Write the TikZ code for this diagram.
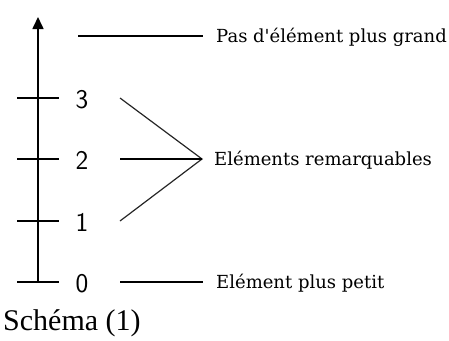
\documentclass[tikz,border=0pt]{standalone}
\usepackage{fontspec}
\setmainfont{Liberation Serif}
\newfontfamily\lblfont{DejaVu Serif}
\usetikzlibrary{arrows.meta}
\tikzset{
  axisline/.style={line width=1.6pt, black},
  tickline/.style={line width=1.6pt, black},
  thinline/.style={line width=1.2pt, black!85},
  digit/.style={font=\sffamily\fontsize{27}{27}\selectfont, inner sep=0pt, anchor=center},
  lbl/.style={font=\lblfont\fontsize{18}{18}\selectfont, inner sep=0pt, anchor=base west},
}
\begin{document}
\begin{tikzpicture}[x=1pt,y=-1pt]
\useasboundingbox (0,0) rectangle (449,340);
% axis
\coordinate (ax0) at (38,282);
\coordinate (axtop) at (38,17);
\draw[axisline, -{Triangle[length=12pt,width=11pt]}] (ax0) -- (axtop);
% ticks
\foreach \n/\y in {3/98,2/159,1/221,0/282}{
  \coordinate (tl\n) at (17,\y);
  \coordinate (tr\n) at (59,\y);
  \draw[tickline] (tl\n) -- (tr\n);
  \node[digit] (d\n) at (82,\y+1.5) {\n};
}
% lines
\coordinate (top1) at (78,36);
\coordinate (top2) at (203,36);
\draw[tickline] (top1) -- (top2);
\coordinate (apex) at (202,159);
\coordinate (s3) at (120,98);
\coordinate (s2) at (120,159);
\coordinate (s1) at (120,221);
\draw[thinline] (s3) -- (apex) -- (s1);
\draw[tickline] (s2) -- (apex);
\coordinate (b1) at (120,282);
\coordinate (b2) at (203,282);
\draw[tickline] (b1) -- (b2);
% labels
\node[lbl] (ltop) at (216,42.5) {Pas d'élément plus grand};
\node[lbl] (lmid) at (214,165.5) {Eléments remarquables};
\node[lbl] (lbot) at (216,288.5) {Elément plus petit};
\node[font=\fontsize{30}{30}\selectfont, inner sep=0pt, anchor=base west] (cap) at (3,330) {Schéma (1)};
\end{tikzpicture}
\end{document}
